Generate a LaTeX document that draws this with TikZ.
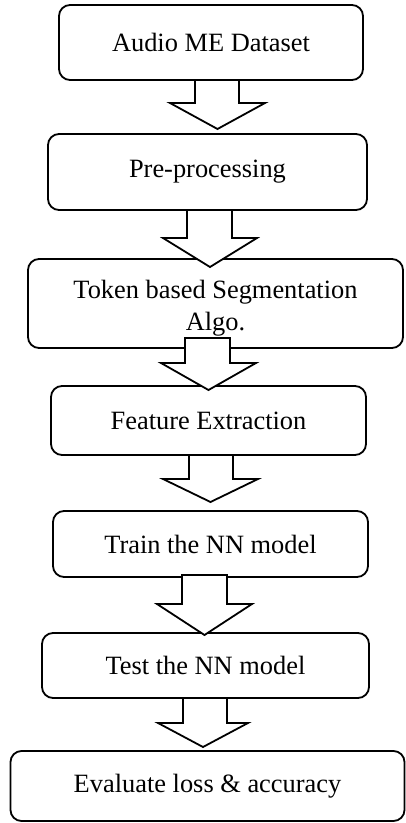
\documentclass[tikz,border=0pt]{standalone}
\usepackage{fontspec}
\setmainfont{Liberation Serif}
\begin{document}
\begin{tikzpicture}[x=1pt,y=-1pt,
  stepbox/.style={draw=black,line width=1.8pt,rounded corners=11pt,inner sep=0pt,
    font=\fontsize{26.4}{31.7}\selectfont,align=center},
  steptext/.style={inner sep=0pt,font=\fontsize{26.4}{31.7}\selectfont,align=center},
  blockarr/.style={draw=black,fill=white,line width=1.8pt,line join=miter}]
\useasboundingbox (0,0) rectangle (406,823);
\node[stepbox,minimum width=304pt,minimum height=75pt] (b1) at (211,42.5) {Audio ME Dataset};
\node[stepbox,minimum width=319pt,minimum height=76pt] (b2) at (207.5,172) {Pre-processing};
\node[stepbox,minimum width=375pt,minimum height=89pt] (b3) at (215.5,303.5) {};
\node[steptext] (b3t) at (215.5,308) {Token based Segmentation\\Algo.};
\node[stepbox,minimum width=315pt,minimum height=69pt] (b4) at (208.5,420.5) {Feature Extraction};
\node[stepbox,minimum width=315pt,minimum height=66pt] (b5) at (210.5,544) {Train the NN model};
\node[stepbox,minimum width=327pt,minimum height=65pt] (b6) at (205.5,665.5) {Test the NN model};
\node[stepbox,minimum width=394pt,minimum height=70pt] (b7) at (207.5,786) {Evaluate loss \& accuracy};
% block arrow: shaft-left, shaft-right, top, wing, head-left, head-right, tip, tip-x
\newcommand\barrow[8]{%
  \draw[blockarr] (#1,#3) -- (#1,#4) -- (#5,#4) -- (#8,#7) -- (#6,#4) -- (#2,#4) -- (#2,#3) -- cycle;}
\barrow{195}{239}{80}{103}{170}{265}{129}{217.5}
\barrow{187}{232}{210}{238}{163}{257}{267}{210}
\barrow{185}{230}{338}{363}{161}{256}{390}{208.5}
\barrow{189}{233}{455}{479}{163}{258}{502}{210.5}
\barrow{182}{227}{575}{604}{157}{252}{635}{204.5}
\barrow{183}{227}{698}{723}{158}{248}{747}{203}
\end{tikzpicture}
\end{document}
